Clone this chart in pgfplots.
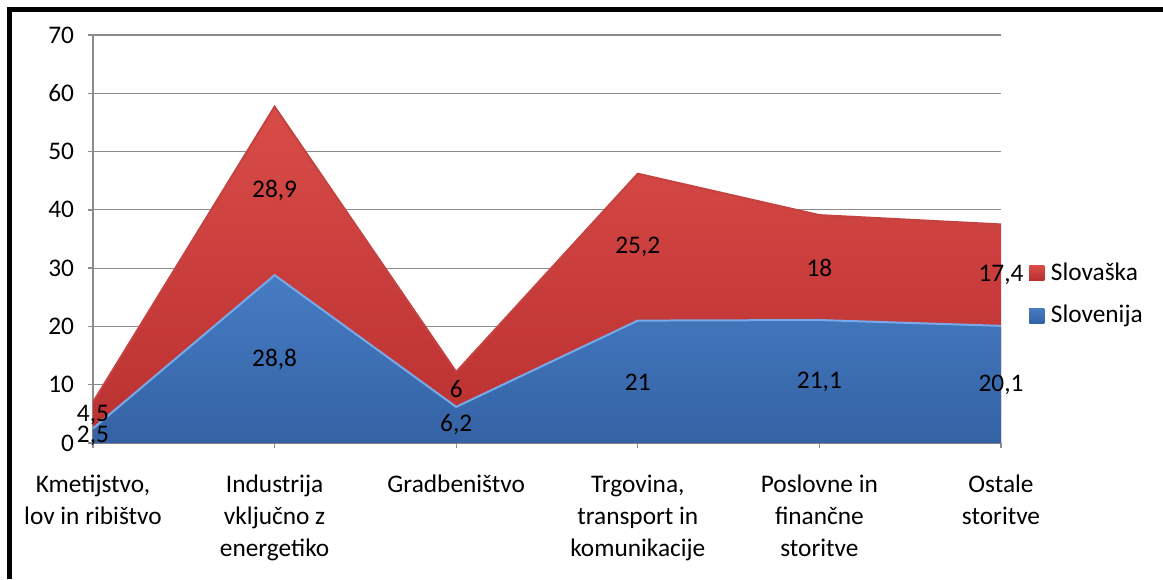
\documentclass[border=0pt]{standalone}
\usepackage{fontspec}
\setmainfont{Carlito}
\usepackage{pgfplots}
\usepackage{pgfplotstable}
\pgfplotsset{compat=1.18}
\definecolor{blueT}{RGB}{70,124,194}
\definecolor{blueB}{RGB}{52,98,165}
\definecolor{blueE}{RGB}{118,170,234}
\definecolor{redT}{RGB}{216,76,72}
\definecolor{redB}{RGB}{186,48,48}
\definecolor{redE}{RGB}{196,66,64}
\definecolor{gridc}{RGB}{140,140,140}
\pgfplotstableread{
x si sk
0 2.5 4.5
1 28.8 28.9
2 6.2 6
3 21 25.2
4 21.1 18
5 20.1 17.4
}\data
\begin{document}
\fontsize{19}{24}\selectfont
\begin{tikzpicture}
\path[use as bounding box] (0,0) rectangle (872.25pt,434.25pt);
\draw[line width=3.2pt] (7.1pt,0) -- (7.1pt,427.1pt) -- (872.25pt,427.1pt);
\begin{axis}[
  at={(69.75pt,102pt)}, anchor=south west,
  scale only axis, width=681pt, height=306pt,
  xmin=0, xmax=5, ymin=0, ymax=70,
  ytick={0,10,...,70}, xtick={0,...,5},
  xticklabels={{Kmetijstvo,\\lov in ribištvo},{Industrija\\vključno z\\energetiko},{Gradbeništvo},{Trgovina,\\transport in\\komunikacije},{Poslovne in\\finančne\\storitve},{Ostale\\storitve}},
  axis x line*=bottom, axis y line*=left,
  axis line style={-, gridc, line width=1pt},
  ymajorgrids, grid style={gridc, line width=0.8pt},
  tick align=outside, major tick length=3.75pt,
  tick style={gridc, line width=1pt},
  xticklabel style={align=center, font=\fontsize{19}{24}\selectfont, yshift=-14pt},
  yticklabel style={font=\fontsize{19}{24}\selectfont, xshift=-4pt},
  /pgf/number format/assume math mode=true,
  /pgf/number format/use comma,
  clip=false,
  legend style={at={(1,0.364)}, anchor=west, xshift=18pt, draw=none, fill=none,
    font=\fontsize{19}{24}\selectfont, row sep=12pt, cells={anchor=west}},
  legend image code/.code={\fill[#1] (0pt,-5.6pt) rectangle (11.25pt,5.6pt);},
]
\addplot[top color=redT, bottom color=redB, draw=none] table[x=x, y expr=\thisrow{si}+\thisrow{sk}] {\data} \closedcycle;
\addlegendentry{\hspace{3pt}Slovaška}
\addplot[top color=blueT, bottom color=blueB, draw=none] table[x=x, y=si] {\data} \closedcycle;
\addlegendentry{\hspace{3pt}Slovenija}
\addplot[forget plot, redE, line width=1.5pt] table[x=x, y expr=\thisrow{si}+\thisrow{sk}] {\data};
\addplot[forget plot, blueE, line width=1.5pt] table[x=x, y=si] {\data};
\addplot[forget plot, draw=none, nodes near coords, point meta=explicit,
  every node near coord/.append style={anchor=center, font=\fontsize{19}{24}\selectfont, black}]
  table[x=x, y expr=\thisrow{si}/2, meta=si] {\data};
\addplot[forget plot, draw=none, nodes near coords, point meta=explicit,
  every node near coord/.append style={anchor=center, font=\fontsize{19}{24}\selectfont, black}]
  table[x=x, y expr=\thisrow{si}+\thisrow{sk}/2, meta=sk] {\data};
\end{axis}
\end{tikzpicture}
\end{document}
